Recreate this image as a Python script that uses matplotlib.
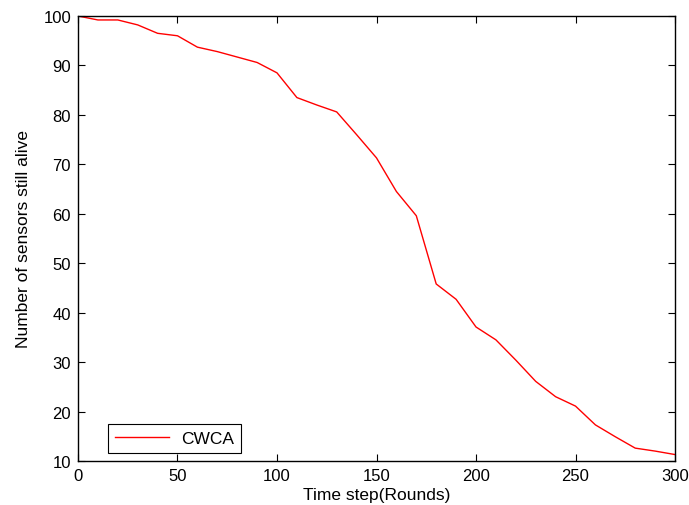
import matplotlib
matplotlib.use("Agg")
import matplotlib.pyplot as plt

rounds = [0, 10, 20, 30, 40, 50, 60, 70, 80, 90, 100, 110, 120, 130, 140, 150,
          160, 170, 180, 190, 200, 210, 220, 230, 240, 250, 260, 270, 280, 290, 300]
alive = [100, 99.2, 99.2, 98.2, 96.5, 96.0, 93.7, 92.8, 91.7, 90.6, 88.5, 83.5,
         82.0, 80.6, 76.0, 71.3, 64.5, 59.6, 45.8, 42.7, 37.1, 34.5, 30.4, 26.1,
         23.0, 21.1, 17.3, 14.9, 12.6, 12.0, 11.3]
xticks = [0, 50, 100, 150, 200, 250, 300]
yticks = [10, 20, 30, 40, 50, 60, 70, 80, 90, 100]

plt.rcParams['font.family'] = ['Liberation Sans', 'DejaVu Sans']
fig = plt.figure(figsize=(6.89, 5.06), dpi=100)
ax = fig.add_axes([0.1132, 0.087, 0.8665, 0.8794])
ax.plot(rounds, alive, color='red', lw=1.0, label='CWCA')
ax.set_xlim(0, 300)
ax.set_ylim(10, 100)
ax.set_xticks(xticks)
ax.set_yticks(yticks)
ax.tick_params(direction='in', top=True, right=True, labelsize=12, length=5, width=0.8, pad=5)
for s in ax.spines.values():
    s.set_linewidth(1.0)
ax.set_xlabel('Time step(Rounds)', fontsize=12.5, labelpad=3)
ax.set_ylabel('Number of sensors still alive', fontsize=12.5, labelpad=9)
leg = ax.legend(loc='lower left', bbox_to_anchor=(0.05, 0.018), borderaxespad=0,
                fancybox=False, edgecolor='black', fontsize=12.5, handlelength=3.1,
                borderpad=0.4, handletextpad=0.7, framealpha=1)
leg.get_frame().set_linewidth(0.8)
fig.savefig('out.png', dpi=100)
